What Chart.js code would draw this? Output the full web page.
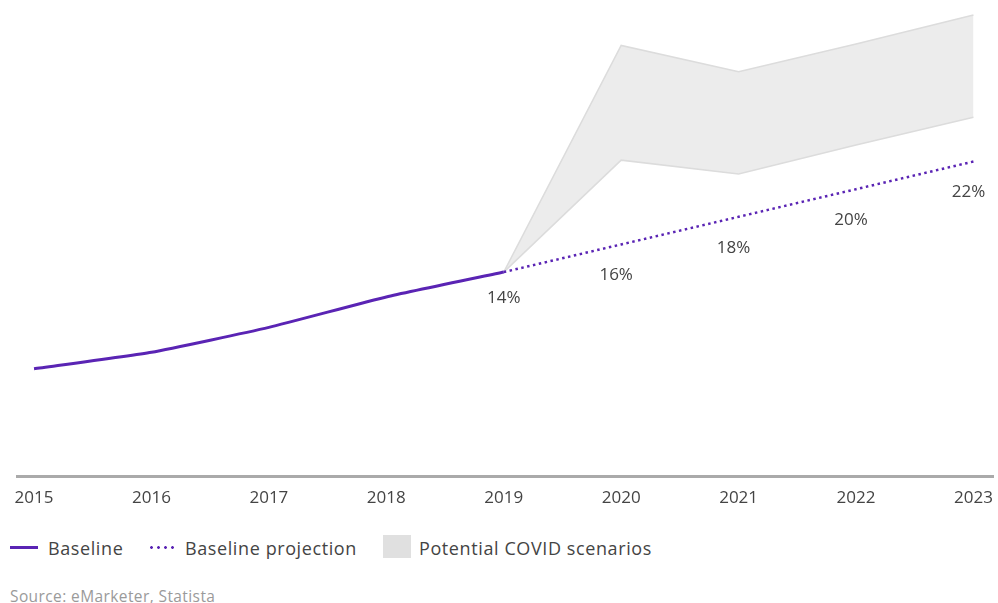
<!DOCTYPE html>
<html>
<head>
<meta charset="utf-8">
<script src="https://cdn.jsdelivr.net/npm/chart.js@4.4.1/dist/chart.umd.min.js"></script>
<style>
  html, body { margin: 0; overflow: hidden; }
  body { background: #fff; font-family: "Open Sans", sans-serif; width: 998px; height: 603px; position: relative; }
  #wrap { position: absolute; left: 0; top: 0; width: 1004px; height: 520px; }
  .legend { position: absolute; top: 536px; left: 10px; height: 24px; font-size: 18px; letter-spacing: 0.6px; color: #444; }
  .legend span { position: absolute; top: 0; white-space: nowrap; line-height: 24px; }
  .swatch { position: absolute; }
  .source { position: absolute; left: 10px; top: 585px; font-size: 15.5px; letter-spacing: 0.4px; color: #9a9a9a; white-space: nowrap; }
</style>
</head>
<body>
<div id="wrap"><canvas id="chart"></canvas></div>
<div class="legend">
  <div class="swatch" style="left:0;top:10px;width:28px;height:3px;background:#5a24b4;"></div>
  <span style="left:38px;">Baseline</span>
  <div class="swatch" style="left:138px;top:10px;width:28px;height:3px;background-image:radial-gradient(circle,#5a24b4 1.3px,transparent 1.5px);background-size:7px 3px;"></div>
  <span style="left:175px;">Baseline projection</span>
  <div class="swatch" style="left:373px;top:-1px;width:28px;height:23px;background:#e0e0e0;"></div>
  <span style="left:409px;">Potential COVID scenarios</span>
</div>
<div class="source">Source: eMarketer, Statista</div>
<script>
const years = [2015, 2016, 2017, 2018, 2019, 2020, 2021, 2022, 2023];
const baseline = [7.0, 8.2, 10.0, 12.2, 14, null, null, null, null];
const projection = [null, null, null, null, 14, 16, 18, 20, 22];
const covidLow = [null, null, null, null, 14, 22.1, 21.1, 23.2, 25.2];
const covidHigh = [null, null, null, null, 14, 30.4, 28.5, 30.5, 32.6];

const purple = '#5a24b4';

function points(values) {
  return years.map((y, i) => ({ x: y, y: values[i] })).filter(p => p.y !== null);
}

// percentage labels under the projected points
const valueLabels = {
  id: 'valueLabels',
  afterDatasetsDraw(chart) {
    const meta = chart.getDatasetMeta(1);
    const ctx = chart.ctx;
    ctx.save();
    ctx.font = '17px "Open Sans"';
    ctx.fillStyle = '#444';
    ctx.textAlign = 'center';
    ctx.textBaseline = 'middle';
    meta.data.forEach((pt, i) => {
      const v = chart.data.datasets[1].data[i].y;
      const dx = i === 0 ? 0 : -5;
      const dy = i === 0 ? 26 : 31;
      ctx.fillText(v + '%', pt.x + dx, pt.y + dy);
    });
    ctx.restore();
  }
};

new Chart('chart', {
  type: 'line',
  data: {
    datasets: [
      {
        label: 'Baseline',
        data: points(baseline),
        borderColor: purple,
        borderWidth: 3,
        tension: 0.15,
        pointRadius: 0,
        order: 1
      },
      {
        label: 'Baseline projection',
        data: points(projection),
        borderColor: purple,
        borderWidth: 2.5,
        borderDash: [2.5, 3.5],
        pointRadius: 0,
        order: 1
      },
      {
        label: 'COVID low',
        data: points(covidLow),
        borderColor: '#dcdcdc',
        borderWidth: 1.5,
        pointRadius: 0,
        fill: false,
        order: 3
      },
      {
        label: 'COVID high',
        data: points(covidHigh),
        borderColor: '#dcdcdc',
        borderWidth: 1.5,
        backgroundColor: '#ececec',
        pointRadius: 0,
        fill: '-1',
        order: 3
      }
    ]
  },
  options: {
    responsive: true,
    maintainAspectRatio: false,
    animation: false,
    layout: { padding: { left: 17, right: 5, top: 4, bottom: 1 } },
    plugins: {
      legend: { display: false },
      tooltip: { enabled: false }
    },
    scales: {
      x: {
        type: 'linear',
        min: 2014.855,
        max: 2023.17,
        grid: { display: false, drawTicks: false },
        border: { display: true, color: '#aaaaaa', width: 3 },
        ticks: {
          stepSize: 1,
          includeBounds: false,
          padding: 11,
          color: '#444',
          font: { family: 'Open Sans', size: 17 },
          callback: v => String(v)
        }
      },
      y: {
        display: false,
        min: -0.8,
        max: 33.4
      }
    }
  },
  plugins: [valueLabels]
});
</script>
</body>
</html>
